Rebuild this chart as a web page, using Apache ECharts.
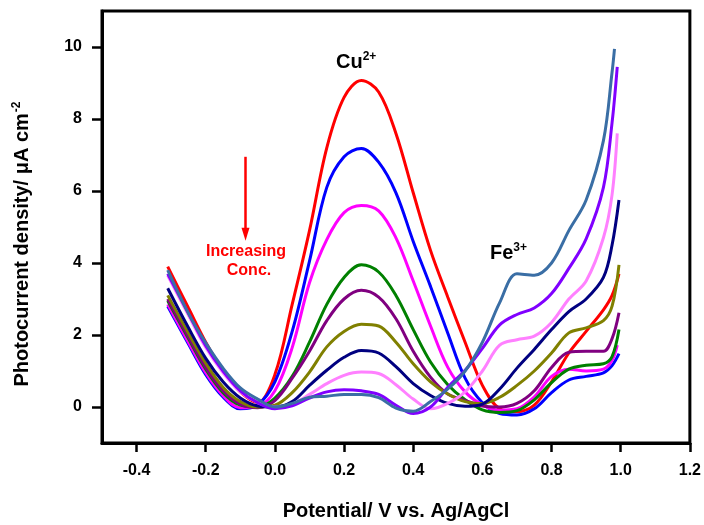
<!DOCTYPE html>
<html>
<head>
<meta charset="utf-8">
<script src="https://cdn.jsdelivr.net/npm/echarts@6/dist/echarts.min.js"></script>
<style>
  html, body { margin: 0; padding: 0; background: #fff; }
  #main { width: 704px; height: 525px; }
</style>
</head>
<body>
<div id="main"></div>
<script>
// potential grid (V vs Ag/AgCl)
const potential = [-0.31, -0.25, -0.2, -0.15, -0.1, -0.05, 0, 0.05, 0.1, 0.15, 0.2, 0.25, 0.3, 0.35,
  0.4, 0.45, 0.5, 0.55, 0.6, 0.65, 0.7, 0.75, 0.8, 0.85, 0.9, 0.95, 0.975, 0.99];
// end potential of each scan
const endPotential = [0.995, 0.995, 0.99, 0.995, 0.995, 0.995, 0.995, 0.99, 0.99, 0.982];

// photocurrent density (uA cm-2), Cu2+ decreasing / Fe3+ increasing
const redCurve     = [3.9, 2.75, 1.8, 1.0, 0.42, 0.12, 0.9, 2.85, 4.9, 7.2, 8.6, 9.07, 8.75, 7.6, 5.95, 4.35, 3.05, 1.8, 0.6, -0.05, -0.13, 0.05, 0.7, 1.5, 2.1, 2.7, 3.1, 3.7];
const blueCurve    = [2.8, 1.75, 0.9, 0.28, -0.05, 0.06, 0.7, 2.1, 4.05, 6.1, 6.95, 7.18, 6.8, 5.95, 4.6, 3.35, 2.05, 0.8, 0.12, -0.18, -0.22, -0.05, 0.4, 0.75, 0.85, 0.95, 1.15, 1.48];
const magentaCurve = [2.85, 1.8, 0.95, 0.32, -0.02, 0.02, 0.45, 1.65, 3.45, 4.65, 5.4, 5.6, 5.45, 4.7, 3.5, 2.25, 1.1, 0.42, 0.06, -0.09, -0.05, 0.28, 0.85, 1.05, 1.0, 1.05, 1.3, 1.72];
const greenCurve   = [2.95, 1.9, 1.05, 0.4, 0.05, 0.0, 0.25, 0.85, 1.8, 2.85, 3.6, 3.95, 3.75, 3.1, 2.15, 1.25, 0.62, 0.2, -0.08, -0.15, -0.1, 0.2, 0.68, 1.05, 1.16, 1.2, 1.4, 2.15];
const purpleCurve  = [3.0, 1.95, 1.1, 0.45, 0.08, -0.02, 0.18, 0.8, 1.55, 2.4, 3.0, 3.24, 3.05, 2.45, 1.55, 0.83, 0.36, 0.18, 0.03, 0.0, 0.1, 0.45, 1.1, 1.52, 1.55, 1.55, 1.9, 2.62];
const oliveCurve   = [3.1, 2.05, 1.22, 0.55, 0.15, 0.0, 0.05, 0.4, 0.97, 1.67, 2.1, 2.3, 2.25, 1.8, 1.2, 0.7, 0.36, 0.15, 0.1, 0.27, 0.6, 1.0, 1.5, 2.06, 2.2, 2.4, 2.8, 3.95];
const navyCurve    = [3.3, 2.2, 1.35, 0.7, 0.25, 0.03, 0.0, 0.15, 0.6, 1.02, 1.38, 1.57, 1.5, 1.12, 0.65, 0.32, 0.1, 0.02, 0.08, 0.5, 1.08, 1.6, 2.15, 2.65, 3.0, 3.6, 4.5, 5.75];
const pinkCurve    = [3.65, 2.55, 1.65, 0.95, 0.42, 0.12, 0.0, 0.08, 0.35, 0.65, 0.88, 0.97, 0.93, 0.62, 0.22, -0.05, 0.1, 0.42, 1.0, 1.72, 1.87, 1.97, 2.35, 3.0, 3.5, 4.7, 5.9, 7.6];
const violetCurve  = [3.7, 2.6, 1.7, 1.0, 0.45, 0.12, -0.05, 0.03, 0.25, 0.42, 0.48, 0.45, 0.35, 0.05, -0.18, 0.0, 0.55, 1.02, 1.63, 2.28, 2.57, 2.75, 3.15, 3.85, 4.67, 6.1, 7.9, 9.45];
const steelCurve   = [3.8, 2.6, 1.78, 1.08, 0.53, 0.22, 0.0, 0.1, 0.27, 0.3, 0.35, 0.35, 0.26, -0.03, -0.12, 0.15, 0.5, 1.0, 1.8, 2.9, 3.7, 3.66, 4.0, 4.9, 5.75, 7.4, 9.3, 9.95];

const curves = [redCurve, blueCurve, magentaCurve, greenCurve, purpleCurve, oliveCurve, navyCurve, pinkCurve, violetCurve, steelCurve];
const colors = ['#ff0000', '#0000ff', '#ff00ff', '#008000', '#800080', '#808000', '#000080', '#ff80ff', '#8000ff', '#3a6ea5'];

const xTicks = [-0.4, -0.2, 0, 0.2, 0.4, 0.6, 0.8, 1.0, 1.2];
const yTicks = [0, 2, 4, 6, 8, 10];

// arrow "Increasing Conc." (data coords)
const arrowX = -0.085;
const arrowFrom = 6.95;
const arrowTo = 4.8;

const FONT = '"Liberation Sans", Arial, sans-serif';

const chart = echarts.init(document.getElementById('main'));

const series = curves.map((vals, i) => ({
  type: 'line',
  data: vals.map((v, j) => [j === vals.length - 1 ? endPotential[i] : potential[j], v]),
  showSymbol: false,
  smooth: 0.35,
  lineStyle: { color: colors[i], width: 3 },
  itemStyle: { color: colors[i] },
  z: 2 + i
}));

// red arrow
series.push({
  type: 'line',
  data: [],
  markLine: {
    silent: true,
    symbol: ['none', 'triangle'],
    symbolSize: [8, 13],
    label: { show: false },
    lineStyle: { color: '#ff0000', width: 2.5, type: 'solid' },
    data: [[{ coord: [arrowX, arrowFrom] }, { coord: [arrowX, arrowTo] }]]
  }
});

chart.setOption({
  backgroundColor: '#fff',
  animation: false,
  grid: { left: 102, top: 11, right: 14, bottom: 82, show: true, borderColor: '#000', borderWidth: 3 },
  xAxis: {
    type: 'value', min: -0.5, max: 1.2,
    axisLine: { show: true, onZero: false, lineStyle: { color: '#000', width: 3 } },
    axisTick: { show: true, customValues: xTicks, length: 9, lineStyle: { color: '#000', width: 2.5 } },
    axisLabel: {
      customValues: xTicks, margin: 20,
      color: '#000', fontFamily: FONT, fontWeight: 'bold', fontSize: 16,
      formatter: v => v.toFixed(1)
    },
    splitLine: { show: false }
  },
  yAxis: {
    type: 'value', min: -1, max: 11,
    axisLine: { show: true, onZero: false, lineStyle: { color: '#000', width: 3 } },
    axisTick: { show: true, customValues: yTicks, length: 10, lineStyle: { color: '#000', width: 2.5 } },
    axisLabel: {
      customValues: yTicks, margin: 20,
      color: '#000', fontFamily: FONT, fontWeight: 'bold', fontSize: 16
    },
    splitLine: { show: false }
  },
  graphic: [
    {
      type: 'text', x: 396, y: 511,
      style: { text: 'Potential/ V vs. Ag/AgCl', fill: '#000', font: 'bold 20px ' + FONT, align: 'center', verticalAlign: 'middle' }
    },
    {
      type: 'text', x: 22, y: 244, rotation: Math.PI / 2,
      style: {
        text: '{a|Photocurrent density/ μA cm}{s|-2}',
        align: 'center', verticalAlign: 'middle',
        rich: {
          a: { fill: '#000', font: 'bold 20px ' + FONT },
          s: { fill: '#000', font: 'bold 12px ' + FONT, padding: [0, 0, 10, 1] }
        }
      }
    },
    {
      type: 'text', left: 336, top: 51,
      style: {
        text: '{a|Cu}{s|2+}',
        rich: {
          a: { fill: '#000', font: 'bold 20px ' + FONT },
          s: { fill: '#000', font: 'bold 12px ' + FONT, padding: [0, 0, 11, 0] }
        }
      }
    },
    {
      type: 'text', left: 490, top: 242,
      style: {
        text: '{a|Fe}{s|3+}',
        rich: {
          a: { fill: '#000', font: 'bold 20px ' + FONT },
          s: { fill: '#000', font: 'bold 12px ' + FONT, padding: [0, 0, 11, 0] }
        }
      }
    },
    {
      type: 'text', x: 246, y: 252,
      style: { text: 'Increasing', fill: '#ff0000', font: 'bold 16px ' + FONT, align: 'center', verticalAlign: 'middle' }
    },
    {
      type: 'text', x: 249, y: 271,
      style: { text: 'Conc.', fill: '#ff0000', font: 'bold 16px ' + FONT, align: 'center', verticalAlign: 'middle' }
    }
  ],
  series: series
});
</script>
</body>
</html>
